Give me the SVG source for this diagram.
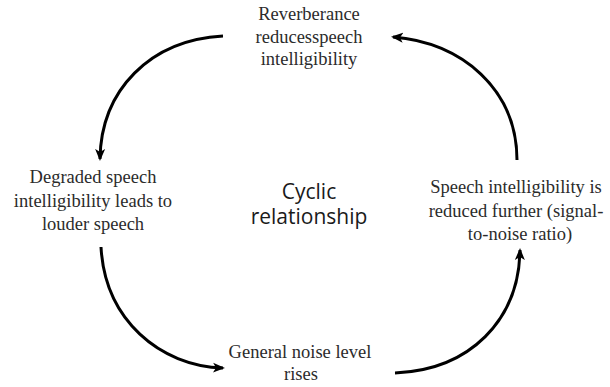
<svg xmlns="http://www.w3.org/2000/svg" width="610" height="387" viewBox="0 0 610 387">
<defs>
<marker id="ah" markerUnits="userSpaceOnUse" markerWidth="12" markerHeight="12" viewBox="0 0 12 10" refX="10" refY="5" orient="auto">
<path d="M0,0 L12,5 L0,10 L3,5 z" fill="#000"/>
</marker>
<style>
.lbl{font-family:"Liberation Serif","Times New Roman",serif;font-size:18.5px;fill:#2b2b2b;text-anchor:middle}
.ctr{font-family:"Open Sans","Liberation Sans",sans-serif;font-size:21px;fill:#1a1a1a;text-anchor:middle}
.arr{fill:none;stroke:#000;stroke-width:3;marker-end:url(#ah)}
</style>
</defs>
<rect width="610" height="387" fill="#fff"/>
<g id="connectors">
<path class="arr" d="M223,36 C150,40 101,90 100,159"/>
<path class="arr" d="M101,247 C105,320 160,366 223,368"/>
<path class="arr" d="M395,373 C470,370 519,320 520,250"/>
<path class="arr" d="M517,160 C517,90 462,42 393,37"/>
</g>
<g id="node-top">
<text class="lbl" x="309" y="20">Reverberance</text>
<text class="lbl" x="309" y="43">reducesspeech</text>
<text class="lbl" x="309" y="65">intelligibility</text>
</g>
<g id="node-left">
<text class="lbl" x="93" y="183">Degraded speech</text>
<text class="lbl" x="93" y="207">intelligibility leads to</text>
<text class="lbl" x="93" y="230">louder speech</text>
</g>
<g id="node-right">
<text class="lbl" x="516" y="193">Speech intelligibility is</text>
<text class="lbl" x="516" y="217">reduced further (signal-</text>
<text class="lbl" x="520" y="240">to-noise ratio)</text>
</g>
<g id="node-bottom">
<text class="lbl" x="300" y="358">General noise level</text>
<text class="lbl" x="301" y="380">rises</text>
</g>
<g id="center">
<text class="ctr" x="309" y="199">Cyclic</text>
<text class="ctr" x="309" y="224">relationship</text>
</g>
</svg>
